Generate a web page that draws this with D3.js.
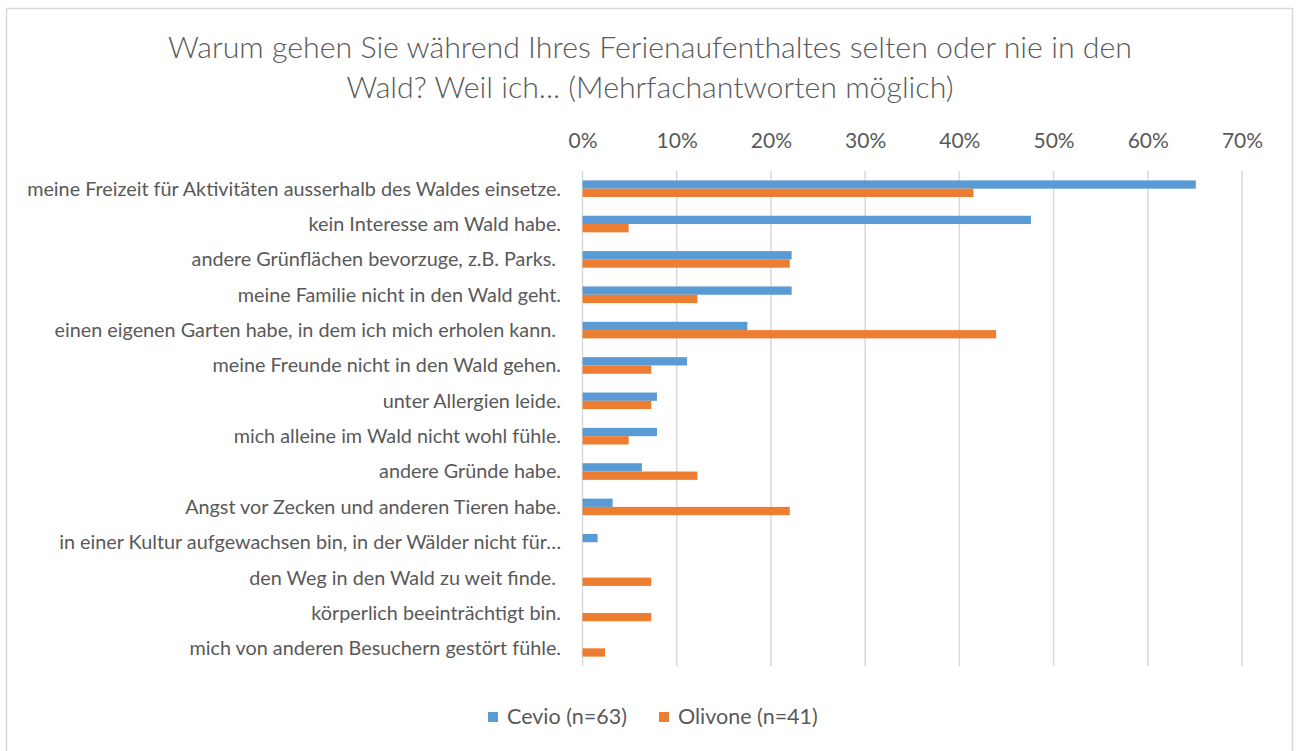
<!DOCTYPE html>
<html>
<head>
<meta charset="utf-8">
<script src="https://cdn.jsdelivr.net/npm/d3@7"></script>
<style>
body{margin:0;background:#fff;}
svg text{font-family:Lato,"Open Sans",sans-serif;fill:#595959;white-space:pre;}
</style>
</head>
<body>
<svg id="chart" width="1298" height="751"></svg>
<script>
var categories=[
	"meine Freizeit für Aktivitäten ausserhalb des Waldes einsetze.",
	"kein Interesse am Wald habe.",
	"andere Grünflächen bevorzuge, z.B. Parks. ",
	"meine Familie nicht in den Wald geht.",
	"einen eigenen Garten habe, in dem ich mich erholen kann. ",
	"meine Freunde nicht in den Wald gehen.",
	"unter Allergien leide.",
	"mich alleine im Wald nicht wohl fühle.",
	"andere Gründe habe.",
	"Angst vor Zecken und anderen Tieren habe.",
	"in einer Kultur aufgewachsen bin, in der Wälder nicht für…",
	"den Weg in den Wald zu weit finde. ",
	"körperlich beeinträchtigt bin.",
	"mich von anderen Besuchern gestört fühle."
]
var seriesNames=["Cevio (n=63)","Olivone (n=41)"]
var cevio=[0.651,0.476,0.222,0.222,0.175,0.111,0.079,0.079,0.063,0.032,0.016,0,0,0]
var olivone=[0.415,0.049,0.220,0.122,0.439,0.073,0.073,0.049,0.122,0.220,0,0.073,0.073,0.024]
var tickValues=[0,0.1,0.2,0.3,0.4,0.5,0.6,0.7]
var colors=["#5B9BD5","#ED7D31"]

var svg=d3.select("#chart")

svg.append("rect")
	.attr("x",6.5).attr("y",8.5)
	.attr("width",1286).attr("height",760)
	.attr("fill","#fff")
	.attr("stroke","#d9d9d9")
	.attr("stroke-width",1.5)

// title
var titleLines=["Warum gehen Sie während Ihres Ferienaufenthaltes selten oder nie in den","Wald? Weil ich... (Mehrfachantworten möglich)"]
svg.selectAll(".title")
	.data(titleLines)
	.enter()
	.append("text")
	.classed("title",true)
	.attr("x",650)
	.attr("y",(d,i)=>58+i*40)
	.attr("text-anchor","middle")
	.attr("font-size","30.3px")
	.attr("font-weight",300)
	.text(d=>d)

var plotTop=171, plotBottom=666

var xScale=d3.scaleLinear()
	.domain([0,0.7])
	.range([582.5,1242])

var yScale=d3.scaleBand()
	.domain(categories)
	.range([plotTop,plotBottom])

var barH=8.3
var sub=d3.scaleBand()
	.domain(seriesNames)
	.range([yScale.bandwidth()/2-barH,yScale.bandwidth()/2+barH])

// gridlines
svg.append("g")
	.selectAll("line")
	.data(tickValues)
	.enter()
	.append("line")
	.attr("x1",d=>xScale(d))
	.attr("x2",d=>xScale(d))
	.attr("y1",plotTop)
	.attr("y2",plotBottom)
	.attr("stroke","#d9d9d9")
	.attr("stroke-width",1.5)

// top axis
var xAxis=d3.axisTop(xScale)
	.tickValues(tickValues)
	.tickSize(0)
	.tickPadding(0)
	.tickFormat(d3.format(".0%"))

var ax=svg.append("g")
	.attr("transform","translate(0,148)")
	.call(xAxis)
ax.attr("font-family",null).attr("font-size",null)
ax.select(".domain").remove()
ax.selectAll("text")
	.attr("font-size","21px")
	.attr("fill",null)

// category labels
svg.append("g")
	.selectAll("text")
	.data(categories)
	.enter()
	.append("text")
	.attr("x",561)
	.attr("y",d=>yScale(d)+yScale.bandwidth()/2)
	.attr("dy","0.35em")
	.attr("text-anchor","end")
	.attr("font-size","19.8px")
	.text(d=>d)

// bars
var rows=categories.map((c,i)=>({cat:c,values:[cevio[i],olivone[i]]}))

var g=svg.append("g")
	.selectAll(".row")
	.data(rows)
	.enter()
	.append("g")
	.classed("row",true)
	.attr("transform",d=>"translate(0,"+yScale(d.cat)+")")

g.selectAll("rect")
	.data(d=>d.values.map((v,j)=>({name:seriesNames[j],value:v,j:j})))
	.enter()
	.append("rect")
	.attr("x",xScale(0))
	.attr("y",d=>sub(d.name))
	.attr("width",d=>xScale(d.value)-xScale(0))
	.attr("height",sub.bandwidth())
	.attr("fill",d=>colors[d.j])

// legend
var legendX=[488,659]
var lg=svg.append("g")
	.selectAll("g")
	.data(seriesNames)
	.enter()
	.append("g")
	.attr("transform",(d,i)=>"translate("+legendX[i]+",712)")
lg.append("rect")
	.attr("width",10).attr("height",10)
	.attr("fill",(d,i)=>colors[i])
lg.append("text")
	.attr("x",19)
	.attr("y",12)
	.attr("font-size","21.5px")
	.text(d=>d)
</script>
</body>
</html>
